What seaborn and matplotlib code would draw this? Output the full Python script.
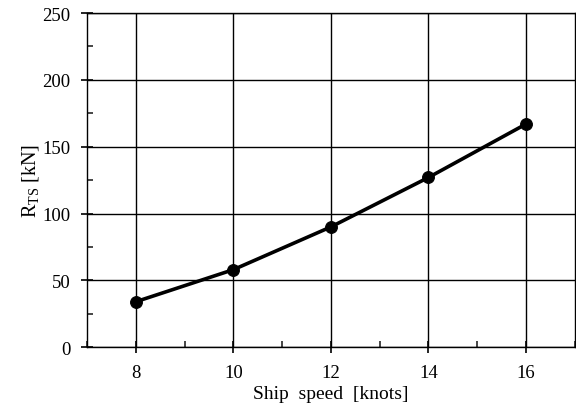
import matplotlib
matplotlib.use("Agg")
import matplotlib.pyplot as plt
import seaborn as sns
import pandas as pd
from matplotlib.ticker import MultipleLocator

speed = [8, 10, 12, 14, 16]
resistance = [34, 58, 90, 127, 167]

sns.set_style("ticks")
plt.rcParams['font.family'] = ['Liberation Serif', 'DejaVu Serif']
plt.rcParams['mathtext.fontset'] = 'custom'
plt.rcParams['mathtext.rm'] = 'Liberation Serif'
plt.rcParams['text.color'] = 'black'
plt.rcParams['axes.labelcolor'] = 'black'

df = pd.DataFrame({"speed": speed, "res": resistance})
fig = plt.figure(figsize=(5.76, 4.14), dpi=100)
ax = fig.add_axes([0.151, 0.159, 0.847, 0.807])
sns.lineplot(data=df, x="speed", y="res", ax=ax, color="black", linewidth=2.6,
             marker="o", markersize=8.5, markeredgecolor="black")
ax.set_xlim(7, 17)
ax.set_ylim(0, 250)
ax.xaxis.set_major_locator(MultipleLocator(2))
ax.xaxis.set_minor_locator(MultipleLocator(1))
ax.yaxis.set_major_locator(MultipleLocator(50))
ax.yaxis.set_minor_locator(MultipleLocator(25))
ax.grid(True, which="major", color="black", linewidth=1.0)
ax.set_axisbelow(True)
for s in ax.spines.values():
    s.set_visible(True)
    s.set_color("black")
    s.set_linewidth(1.0)
ax.tick_params(which="major", direction="inout", length=8, width=1.2, labelsize=13.5,
               colors="black", pad=8)
ax.tick_params(which="minor", direction="in", length=4, width=1.2)
ax.set_xlabel("Ship  speed  [knots]", fontsize=14, labelpad=3)
ax.set_ylabel(r"R$_{\mathrm{TS}}$ [kN]", fontsize=14.5, labelpad=1)
fig.savefig("out.png", dpi=100)
